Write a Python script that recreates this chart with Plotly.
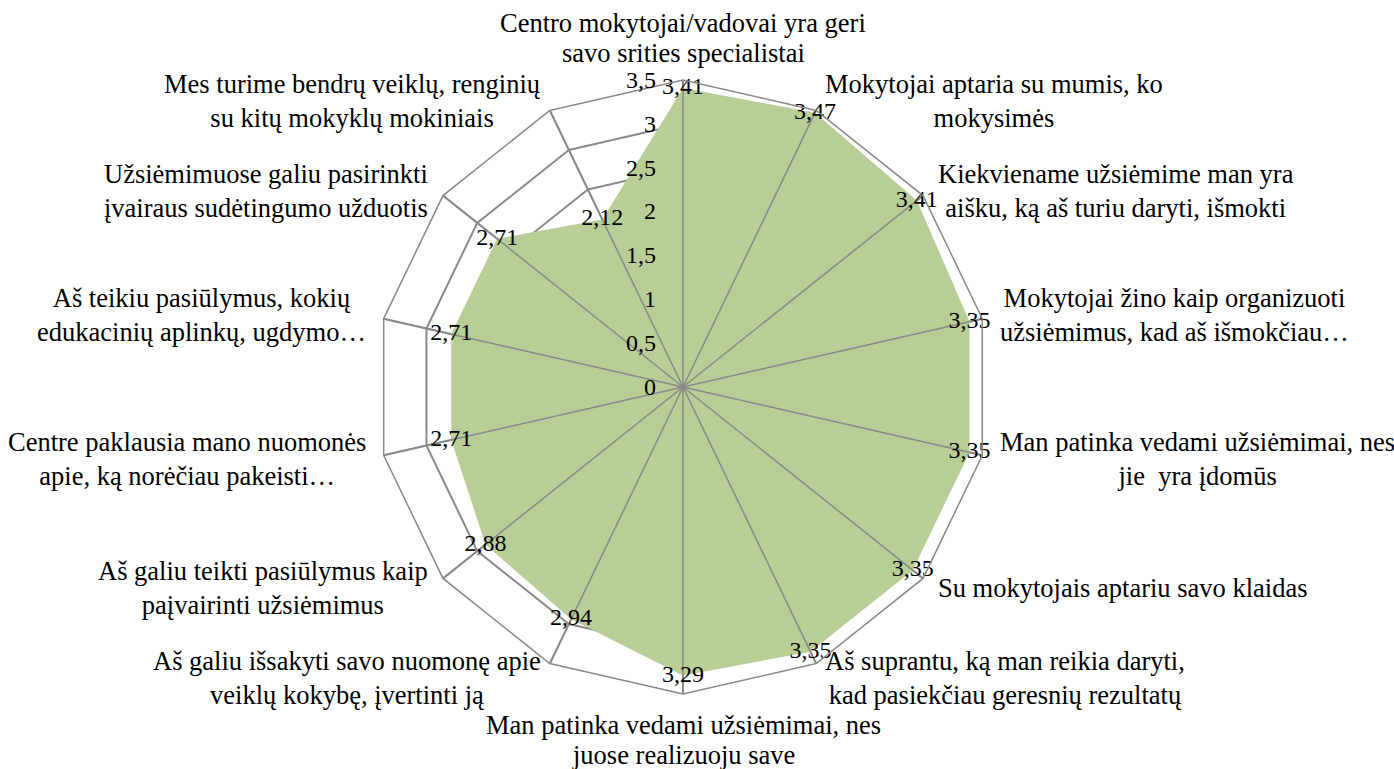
import math
import plotly.graph_objects as go

categories = [
    "Centro mokytojai/vadovai yra geri savo srities specialistai",
    "Mokytojai aptaria su mumis, ko mokysimės",
    "Kiekviename užsiėmime man yra aišku, ką aš turiu daryti, išmokti",
    "Mokytojai žino kaip organizuoti užsiėmimus, kad aš išmokčiau…",
    "Man patinka vedami užsiėmimai, nes jie  yra įdomūs",
    "Su mokytojais aptariu savo klaidas",
    "Aš suprantu, ką man reikia daryti, kad pasiekčiau geresnių rezultatų",
    "Man patinka vedami užsiėmimai, nes juose realizuoju save",
    "Aš galiu išsakyti savo nuomonę apie veiklų kokybę, įvertinti ją",
    "Aš galiu teikti pasiūlymus kaip paįvairinti užsiėmimus",
    "Centre paklausia mano nuomonės apie, ką norėčiau pakeisti…",
    "Aš teikiu pasiūlymus, kokių edukacinių aplinkų, ugdymo…",
    "Užsiėmimuose galiu pasirinkti įvairaus sudėtingumo užduotis",
    "Mes turime bendrų veiklų, renginių su kitų mokyklų mokiniais",
]
category_labels = [
    "Centro mokytojai/vadovai yra geri<br>savo srities specialistai",
    "Mokytojai aptaria su mumis, ko<br>mokysimės",
    "Kiekviename užsiėmime man yra<br>aišku, ką aš turiu daryti, išmokti",
    "Mokytojai žino kaip organizuoti<br>užsiėmimus, kad aš išmokčiau…",
    "Man patinka vedami užsiėmimai, nes<br>jie  yra įdomūs",
    "Su mokytojais aptariu savo klaidas",
    "Aš suprantu, ką man reikia daryti,<br>kad pasiekčiau geresnių rezultatų",
    "Man patinka vedami užsiėmimai, nes<br>juose realizuoju save",
    "Aš galiu išsakyti savo nuomonę apie<br>veiklų kokybę, įvertinti ją",
    "Aš galiu teikti pasiūlymus kaip<br>paįvairinti užsiėmimus",
    "Centre paklausia mano nuomonės<br>apie, ką norėčiau pakeisti…",
    "Aš teikiu pasiūlymus, kokių<br>edukacinių aplinkų, ugdymo…",
    "Užsiėmimuose galiu pasirinkti<br>įvairaus sudėtingumo užduotis",
    "Mes turime bendrų veiklų, renginių<br>su kitų mokyklų mokiniais",
]
values = [3.41, 3.47, 3.41, 3.35, 3.35, 3.35, 3.35, 3.29, 2.94, 2.88, 2.71, 2.71, 2.71, 2.12]
r_min, r_max, r_step = 0, 3.5, 0.5

GRAY = "#898989"
FILL = "#B9CE96"
FONT = "Liberation Serif"
FS_CAT = 26.5
FS = 24

fig = go.Figure()
fig.add_trace(go.Scatterpolar(
    r=values, theta=categories, fill="toself", fillcolor=FILL,
    mode="lines", line=dict(width=0, color=FILL), hoverinfo="skip", showlegend=False,
))

# category spokes drawn over the fill
spoke_r, spoke_t = [], []
for c in categories:
    spoke_r += [r_min, r_max, None]
    spoke_t += [c, c, c]
fig.add_trace(go.Scatterpolar(
    r=spoke_r, theta=spoke_t, mode="lines", line=dict(color=GRAY, width=1.5),
    hoverinfo="skip", showlegend=False, connectgaps=False,
))

fig.add_trace(go.Scatterpolar(
    r=values, theta=categories, mode="text", texttemplate="%{r:.2f}",
    textposition="middle center", textfont=dict(family=FONT, size=FS, color="black"),
    showlegend=False, hoverinfo="skip",
))

W, H = 1394, 769
cx, cy, R = 683, 387, 307
pad = 16            # gap between outer ring and side labels
pad_top, pad_bottom = 27, 31   # ring to nearest line centre for top / bottom labels
line_step = 30      # line spacing for top / bottom labels

annotations = []
n = len(categories)
for i, lab in enumerate(category_labels):
    a = math.radians(i * 360 / n)
    s, c = math.sin(a), math.cos(a)
    font = dict(family=FONT, size=FS_CAT, color="black")
    if abs(s) < 0.05:
        lines = lab.split("<br>")
        if c > 0:
            lines = lines[::-1]
        pc = pad_top if c > 0 else pad_bottom
        for k, ln in enumerate(lines):
            dist = R + pc + k * line_step
            py = cy - dist * c
            annotations.append(dict(
                x=cx / W, y=1 - py / H, xref="paper", yref="paper", text=ln, showarrow=False,
                xanchor="center", yanchor="middle", font=font,
            ))
        continue
    px = cx + (R + pad) * s
    py = cy - (R + pad) * c
    if c > 0.5:
        py += 5
    annotations.append(dict(
        x=px / W, y=1 - py / H, xref="paper", yref="paper", text=lab, showarrow=False,
        xanchor="left" if s > 0 else "right", yanchor="middle", align="center", font=font,
    ))

fig.update_layout(
    width=W, height=H, autosize=False,
    margin=dict(l=0, r=0, t=0, b=0),
    paper_bgcolor="white", plot_bgcolor="white",
    separators=", ",
    font=dict(family=FONT, size=FS, color="black"),
    annotations=annotations,
    polar=dict(
        domain=dict(x=[(cx - R) / W, (cx + R) / W], y=[(H - cy - R) / H, (H - cy + R) / H]),
        gridshape="linear",
        bgcolor="white",
        angularaxis=dict(
            type="category", categoryarray=categories, rotation=90, direction="clockwise",
            showticklabels=False,
            showline=True, linecolor=GRAY, linewidth=1.5,
            showgrid=True, gridcolor=GRAY, gridwidth=1.5,
            ticks="", layer="above traces",
        ),
        radialaxis=dict(
            range=[r_min, r_max], dtick=r_step, tick0=0, angle=90, side="counterclockwise",
            showline=False, showgrid=True, gridcolor=GRAY, gridwidth=1.5,
            ticks="outside", ticklen=18, tickcolor="rgba(0,0,0,0)", tickangle=90,
            tickfont=dict(family=FONT, size=FS, color="black"),
            layer="above traces",
        ),
    ),
)
fig.write_html("out.html", config={"displayModeBar": False},
               post_script="document.body.style.margin='0px';")
